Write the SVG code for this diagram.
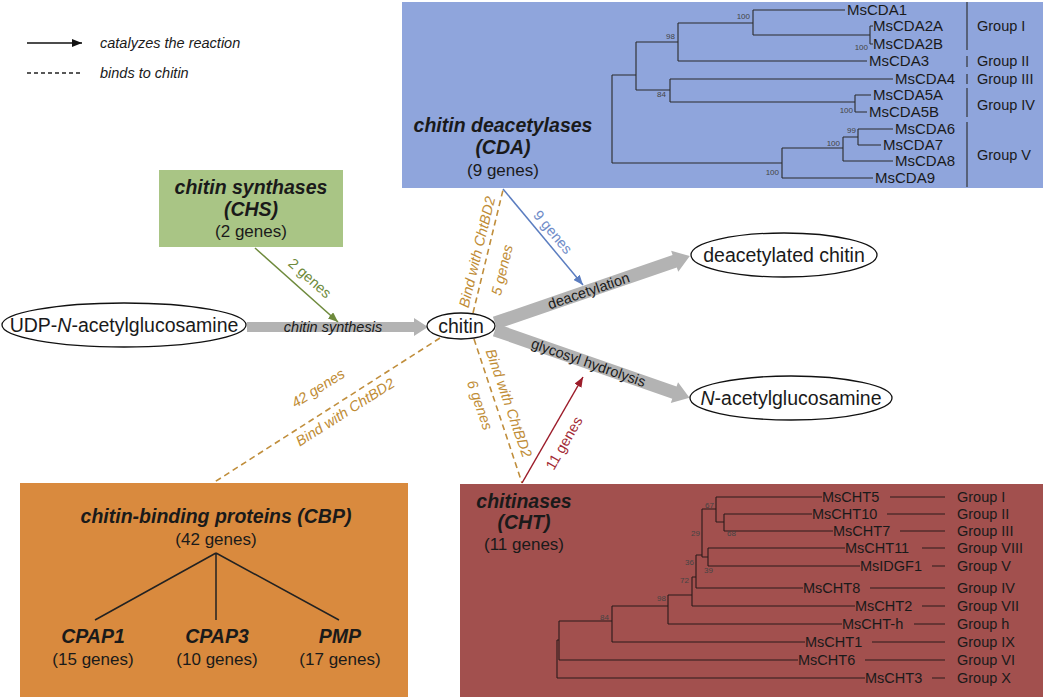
<svg xmlns="http://www.w3.org/2000/svg" width="1050" height="700" viewBox="0 0 1050 700">
<defs>
<style>
text{font-family:"Liberation Sans",Arial,Helvetica,sans-serif;fill:#1a1a1a}
.title{font-size:19.5px;font-weight:bold;font-style:italic;text-anchor:middle}
.sub{font-size:17px;text-anchor:middle}
.node{font-size:19.5px;text-anchor:middle}
.leaf{font-size:15px}
.leafc{font-size:14.5px}
.grp{font-size:14.5px}
.bs{font-size:8px;fill:#444}
.bsr{font-size:8px;fill:#444;text-anchor:end}
.tree{stroke:#2b2b2b;stroke-width:1.1;fill:none}
.ctree{stroke:#2a1a1a;stroke-width:1.1;fill:none}
.lbl{font-size:14.5px;text-anchor:middle}
.ilbl{font-size:14.5px;font-style:italic;text-anchor:middle}
.gold{fill:#c08c35;font-size:14.5px;font-style:italic;text-anchor:middle}
.dash{stroke:#c08e3c;stroke-width:1.6;stroke-dasharray:6,4;fill:none}
.garrow{fill:#b3b3b3}
.ell{fill:#fff;stroke:#111;stroke-width:1.3}
.cbp{stroke:#222;stroke-width:1.5;fill:none}
</style>
<marker id="mk" markerWidth="10" markerHeight="8" refX="10" refY="4" orient="auto" markerUnits="userSpaceOnUse"><path d="M0,0 L10,4 L0,8 z" fill="#111"/></marker>
<marker id="mg" markerWidth="10" markerHeight="8" refX="10" refY="4" orient="auto" markerUnits="userSpaceOnUse"><path d="M0,0 L10,4 L0,8 z" fill="#6e8a3c"/></marker>
<marker id="mb" markerWidth="10" markerHeight="8" refX="10" refY="4" orient="auto" markerUnits="userSpaceOnUse"><path d="M0,0 L10,4 L0,8 z" fill="#5b7dc0"/></marker>
<marker id="mr" markerWidth="10" markerHeight="8" refX="10" refY="4" orient="auto" markerUnits="userSpaceOnUse"><path d="M0,0 L10,4 L0,8 z" fill="#9c1c2a"/></marker>
</defs>
<rect width="1050" height="700" fill="#fff"/>

<g id="legend">
<line x1="27" y1="43" x2="82" y2="43" stroke="#111" stroke-width="1.5" marker-end="url(#mk)"/>
<text x="100" y="48" class="ilbl" style="text-anchor:start">catalyzes the reaction</text>
<line x1="27" y1="73" x2="82" y2="73" stroke="#222" stroke-width="1.3" stroke-dasharray="4,3"/>
<text x="100" y="78" class="ilbl" style="text-anchor:start">binds to chitin</text>
</g>

<g id="cda">
<rect x="402" y="2" width="641" height="186" fill="#8fa5dc"/>
<text x="503" y="132" class="title">chitin deacetylases</text>
<text x="503" y="154" class="title">(CDA)</text>
<text x="503" y="176" class="sub">(9 genes)</text>
<path class="tree" d="M612,75 V163 M612,75 H636 M636,42 V90 M636,42 H678 M678,23 V61 M678,23 H753 M753,10 V35 M753,10 H845 M753,35 H870 M870,26 V44 M870,26 H873 M870,44 H873 M678,61 H867 M636,90 H670 M670,79 V102 M670,79 H893 M670,102 H855 M855,95 V112 M855,95 H871 M855,112 H867 M612,163 H782 M782,148 V178 M782,178 H873 M782,148 H843 M843,137 V161 M843,161 H893 M843,137 H858 M858,129 V145 M858,129 H893 M858,145 H881"/>
<text x="847" y="15" class="leaf">MsCDA1</text>
<text x="873" y="31" class="leaf">MsCDA2A</text>
<text x="873" y="49" class="leaf">MsCDA2B</text>
<text x="869" y="66" class="leaf">MsCDA3</text>
<text x="895" y="84" class="leaf">MsCDA4</text>
<text x="873" y="100" class="leaf">MsCDA5A</text>
<text x="869" y="117" class="leaf">MsCDA5B</text>
<text x="895" y="134" class="leaf">MsCDA6</text>
<text x="883" y="150" class="leaf">MsCDA7</text>
<text x="895" y="166" class="leaf">MsCDA8</text>
<text x="875" y="183" class="leaf">MsCDA9</text>
<text x="750" y="19" class="bsr">100</text>
<text x="675" y="39" class="bsr">98</text>
<text x="868" y="50" class="bsr">100</text>
<text x="666" y="97" class="bsr">84</text>
<text x="853" y="113" class="bsr">100</text>
<text x="856" y="133" class="bsr">99</text>
<text x="840" y="146" class="bsr">100</text>
<text x="779" y="175" class="bsr">100</text>
<path class="tree" d="M967,2 V50 M967,56 V67 M967,74 V84 M967,88 V117 M967,122 V187"/>
<text x="977" y="31" class="grp">Group I</text>
<text x="977" y="66" class="grp">Group II</text>
<text x="977" y="84" class="grp">Group III</text>
<text x="977" y="110" class="grp">Group IV</text>
<text x="977" y="160" class="grp">Group V</text>
</g>

<g id="chs">
<rect x="159" y="170" width="184" height="77" fill="#a9c585"/>
<text x="251" y="194" class="title">chitin synthases</text>
<text x="251" y="216" class="title">(CHS)</text>
<text x="251" y="237" class="sub">(2 genes)</text>
</g>

<g id="connectors">
<polygon class="garrow" points="247,322 414,322 414,318 428,327 414,336 414,332 247,332"/>
<g transform="translate(495,323) rotate(-18.96)"><polygon class="garrow" points="0,-6.5 190,-6.5 190,-11 206,0 190,11 190,6.5 0,6.5"/><text x="99" y="5" class="lbl">deacetylation</text></g>
<g transform="translate(495,330) rotate(19.22)"><polygon class="garrow" points="0,-6.5 190,-6.5 190,-11 206,0 190,11 190,6.5 0,6.5"/><text x="99" y="5" class="lbl">glycosyl hydrolysis</text></g>
<text x="333" y="332" class="ilbl">chitin synthesis</text>

<line class="dash" x1="473" y1="313" x2="503" y2="190"/>
<line class="dash" x1="440" y1="338" x2="213" y2="483"/>
<line class="dash" x1="474" y1="339" x2="522" y2="483"/>
<text class="gold" transform="translate(477,252) rotate(-76.3)" dy="0.35em">Bind with ChtBD2</text>
<text class="gold" transform="translate(502,270) rotate(-76.3)" dy="0.35em">5 genes</text>
<text class="gold" transform="translate(318,388) rotate(-32.4)" dy="0.35em">42 genes</text>
<text class="gold" transform="translate(345,412) rotate(-32.4)" dy="0.35em">Bind with ChtBD2</text>
<text class="gold" transform="translate(509,403) rotate(70.9)" dy="0.35em">Bind with ChtBD2</text>
<text class="gold" transform="translate(480,405) rotate(70.9)" dy="0.35em">6 genes</text>

<line x1="255" y1="248" x2="338" y2="322" stroke="#6e8a3c" stroke-width="1.5" marker-end="url(#mg)"/>
<text class="lbl" style="fill:#6e8a3c" transform="translate(310,278) rotate(41.7)" dy="0.35em">2 genes</text>
<line x1="503" y1="189" x2="583" y2="285" stroke="#5b7dc0" stroke-width="1.5" marker-end="url(#mb)"/>
<text class="lbl" style="fill:#6f8cc8" transform="translate(553,232) rotate(49.9)" dy="0.35em">9 genes</text>
<line x1="522" y1="483" x2="583" y2="377" stroke="#9c1c2a" stroke-width="1.5" marker-end="url(#mr)"/>
<text class="lbl" style="fill:#a32a35" transform="translate(564,443) rotate(-60.1)" dy="0.35em">11 genes</text>
</g>

<g id="udp">
<ellipse class="ell" cx="124" cy="325" rx="122" ry="22"/>
<text x="124" y="332" class="node">UDP-<tspan font-style="italic">N</tspan>-acetylglucosamine</text>
</g>
<g id="chitin">
<ellipse class="ell" cx="461" cy="326" rx="34" ry="13"/>
<text x="461" y="333" class="node">chitin</text>
</g>
<g id="deacetylated">
<ellipse class="ell" cx="784" cy="255" rx="93" ry="22"/>
<text x="784" y="262" class="node">deacetylated chitin</text>
</g>
<g id="glcnac">
<ellipse class="ell" cx="791" cy="398" rx="101" ry="22"/>
<text x="791" y="405" class="node"><tspan font-style="italic">N</tspan>-acetylglucosamine</text>
</g>

<g id="cbp">
<rect x="20" y="483" width="388" height="214" fill="#d98a3e"/>
<text x="216" y="523" class="title">chitin-binding proteins (CBP)</text>
<text x="216" y="545" class="sub">(42 genes)</text>
<path class="cbp" d="M216,553 L95,620 M216,553 V620 M216,553 L339,620"/>
<text x="93" y="643" class="title">CPAP1</text>
<text x="93" y="665" class="sub">(15 genes)</text>
<text x="217" y="643" class="title">CPAP3</text>
<text x="217" y="665" class="sub">(10 genes)</text>
<text x="340" y="643" class="title">PMP</text>
<text x="340" y="665" class="sub">(17 genes)</text>
</g>

<g id="cht">
<rect x="460" y="484" width="583" height="213" fill="#a2504e"/>
<text x="524" y="508" class="title">chitinases</text>
<text x="524" y="529" class="title">(CHT)</text>
<text x="524" y="550" class="sub">(11 genes)</text>
<path class="ctree" d="M716,497 H822 M724,514 H812 M724,531 H833 M724,514 V531 M716,522 H724 M716,497 V522 M702,509 H716 M708,548 H845 M708,566 H860 M708,548 V566 M702,557 H708 M702,509 V557 M696,555 H702 M696,555 V588 M696,588 H803 M692,577 H696 M692,577 V606 M692,606 H855 M668,595 H692 M668,595 V624 M668,624 H842 M612,606 H668 M612,606 V642 M612,642 H805 M559,621 H612 M559,621 V660 M559,660 H798 M557,640 H559 M557,640 V678 M557,678 H865"/>
<path class="ctree" d="M890,497 H945 M887,514 H945 M900,531 H945 M922,548 H945 M932,566 H945 M870,588 H945 M922,606 H945 M914,624 H945 M872,642 H945 M865,660 H945 M932,678 H945"/>
<text x="822" y="502" class="leafc">MsCHT5</text>
<text x="812" y="519" class="leafc">MsCHT10</text>
<text x="833" y="536" class="leafc">MsCHT7</text>
<text x="845" y="553" class="leafc">MsCHT11</text>
<text x="860" y="571" class="leafc">MsIDGF1</text>
<text x="803" y="593" class="leafc">MsCHT8</text>
<text x="855" y="611" class="leafc">MsCHT2</text>
<text x="842" y="629" class="leafc">MsCHT-h</text>
<text x="805" y="647" class="leafc">MsCHT1</text>
<text x="798" y="665" class="leafc">MsCHT6</text>
<text x="865" y="683" class="leafc">MsCHT3</text>
<text x="957" y="502" class="grp">Group I</text>
<text x="957" y="519" class="grp">Group II</text>
<text x="957" y="536" class="grp">Group III</text>
<text x="957" y="553" class="grp">Group VIII</text>
<text x="957" y="571" class="grp">Group V</text>
<text x="957" y="593" class="grp">Group IV</text>
<text x="957" y="611" class="grp">Group VII</text>
<text x="957" y="629" class="grp">Group h</text>
<text x="957" y="647" class="grp">Group IX</text>
<text x="957" y="665" class="grp">Group VI</text>
<text x="957" y="683" class="grp">Group X</text>
<text x="714" y="508" class="bsr">67</text>
<text x="727" y="536" class="bs">68</text>
<text x="700" y="536" class="bsr">29</text>
<text x="694" y="565" class="bsr">36</text>
<text x="704" y="573" class="bs">39</text>
<text x="689" y="583" class="bsr">72</text>
<text x="666" y="601" class="bsr">98</text>
<text x="609" y="620" class="bsr">84</text>
</g>
</svg>
